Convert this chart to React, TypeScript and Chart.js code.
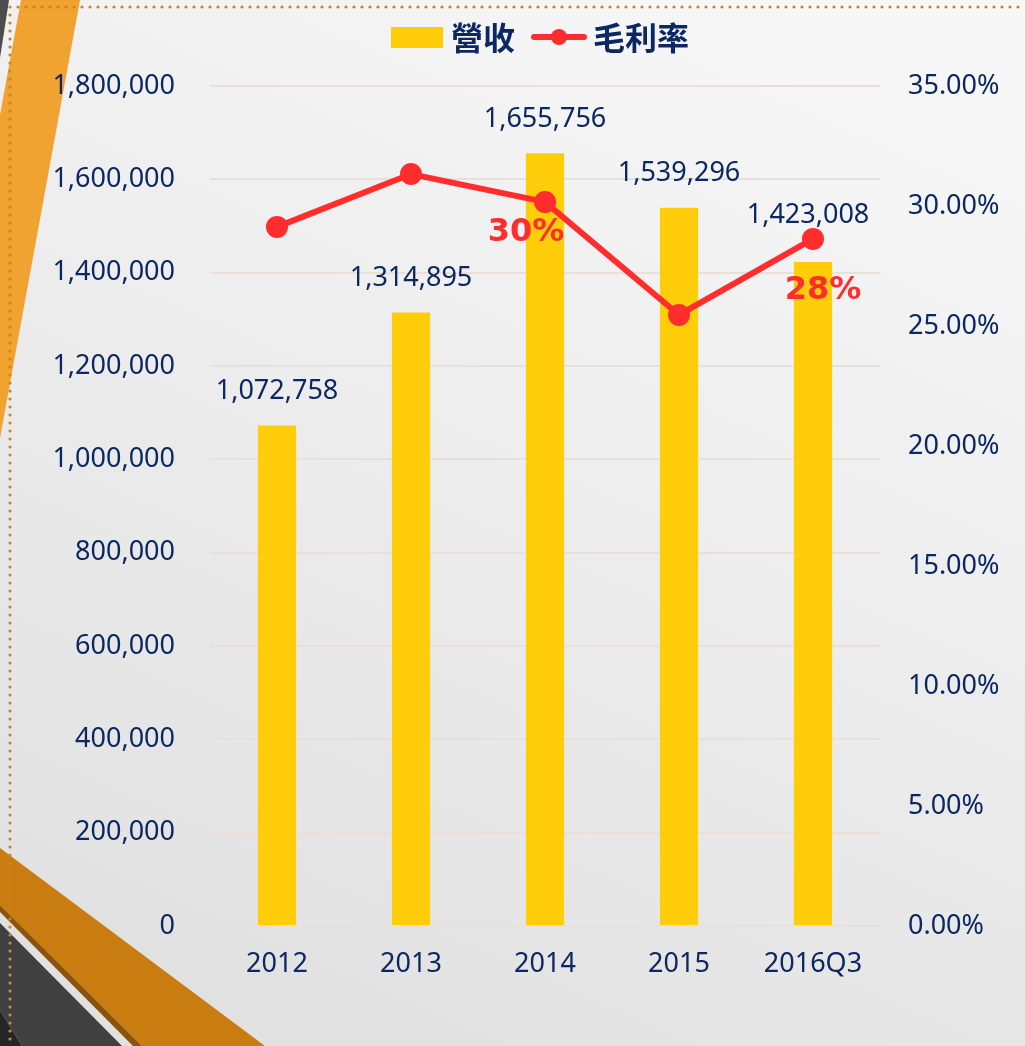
import React, { useEffect, useRef } from "react";
import { Chart, registerables } from "chart.js";

Chart.register(...registerables);

// ---------- data ----------
const categories = ["2012", "2013", "2014", "2015", "2016Q3"];
const revenue = [1072758, 1314895, 1655756, 1539296, 1423008];
const grossMargin = [0.2913, 0.3133, 0.3017, 0.2546, 0.2863];
const marginLabels = ["", "", "30%", "", "28%"];
const revenueName = "營收";
const marginName = "毛利率";
const revenueMax = 1800000;
const revenueStep = 200000;
const marginMax = 0.35;
const marginStep = 0.05;

// ---------- style ----------
const W = 1025;
const H = 1046;
const NAVY = "#0c2862";
const BAR = "#ffcd0a";
const RED = "#ff2d2d";
const NUM_FONT = '"Noto Sans", "Open Sans", sans-serif';
const CJK_FONT = '"Noto Sans CJK TC", "Noto Sans CJK SC", sans-serif';

function poly(ctx: CanvasRenderingContext2D, pts: number[][], color: string) {
  ctx.beginPath();
  ctx.moveTo(pts[0][0], pts[0][1]);
  for (let i = 1; i < pts.length; i++) ctx.lineTo(pts[i][0], pts[i][1]);
  ctx.closePath();
  ctx.fillStyle = color;
  ctx.fill();
}

const decorPlugin = {
  id: "decor",
  beforeDraw(chart: any) {
    const ctx: CanvasRenderingContext2D = chart.ctx;
    const w = chart.width;
    const h = chart.height;
    ctx.save();
    const g = ctx.createLinearGradient(w * 0.75, 0, w * 0.3, h);
    g.addColorStop(0, "#f7f7f7");
    g.addColorStop(1, "#e1e1e1");
    ctx.fillStyle = g;
    ctx.fillRect(0, 0, w, h);

    // top-left
    poly(ctx, [[0, 0], [9, 0], [0, 58]], "#4d4d4d");
    poly(ctx, [[21, 0], [80, 0], [0, 438], [0, 115]], "#f0a330");

    // bottom-left
    poly(ctx, [[0, 848], [265, h], [142, h], [0, 905]], "#c97c10");
    poly(ctx, [[0, 905], [142, h], [133, h], [0, 912]], "#8b5409");
    poly(ctx, [[0, 923], [122, h], [22, h], [0, 1010]], "#404040");
    poly(ctx, [[0, 1010], [22, h], [0, h]], "#262626");

    // dotted border
    ctx.fillStyle = "#d08518";
    for (let x = 10; x < w; x += 8) {
      ctx.beginPath();
      ctx.arc(x, 7, 1.6, 0, Math.PI * 2);
      ctx.fill();
    }
    for (let y = 15; y < h; y += 8) {
      ctx.beginPath();
      ctx.arc(10, y, 1.6, 0, Math.PI * 2);
      ctx.fill();
    }
    ctx.restore();
  },
};

const legendPlugin = {
  id: "customLegend",
  afterDraw(chart: any) {
    const ctx: CanvasRenderingContext2D = chart.ctx;
    const ds = chart.data.datasets;
    const bar = ds.find((d: any) => d.type === "bar");
    const line = ds.find((d: any) => d.type === "line");
    ctx.save();
    ctx.font = `bold 32px ${CJK_FONT}`;
    ctx.textBaseline = "middle";
    ctx.textAlign = "left";
    const t1 = ctx.measureText(bar.label).width;
    const t2 = ctx.measureText(line.label).width;
    const boxW = 52, gap1 = 8, gapItems = 16, lineW = 56, gap2 = 6;
    const total = boxW + gap1 + t1 + gapItems + lineW + gap2 + t2;
    let x = 540 - total / 2;
    const cy = 37;
    ctx.fillStyle = bar.backgroundColor;
    ctx.fillRect(x, 27, boxW, 21);
    x += boxW + gap1;
    ctx.fillStyle = NAVY;
    ctx.fillText(bar.label, x, cy + 1);
    x += t1 + gapItems;
    ctx.strokeStyle = line.borderColor;
    ctx.lineWidth = 6;
    ctx.lineCap = "round";
    ctx.beginPath();
    ctx.moveTo(x + 3, cy);
    ctx.lineTo(x + lineW - 3, cy);
    ctx.stroke();
    ctx.beginPath();
    ctx.fillStyle = line.pointBackgroundColor;
    ctx.arc(x + lineW / 2, cy, 8, 0, Math.PI * 2);
    ctx.fill();
    x += lineW + gap2;
    ctx.fillStyle = NAVY;
    ctx.fillText(line.label, x, cy + 1);
    ctx.restore();
  },
};

const marginLabelOffsets: Record<number, [number, number]> = {
  2: [-19, 31],
  4: [10, 52],
};
const revenueLabelOffsets: Record<number, [number, number]> = {
  4: [-5, -47],
};

const labelsPlugin = {
  id: "valueLabels",
  afterDatasetsDraw(chart: any) {
    const ctx: CanvasRenderingContext2D = chart.ctx;
    ctx.save();
    chart.data.datasets.forEach((d: any, di: number) => {
      const meta = chart.getDatasetMeta(di);
      if (d.type === "bar") {
        ctx.font = `27px ${NUM_FONT}`;
        ctx.fillStyle = NAVY;
        ctx.textAlign = "center";
        ctx.textBaseline = "middle";
        meta.data.forEach((el: any, i: number) => {
          const off = revenueLabelOffsets[i] || [0, -34];
          ctx.fillText(d.data[i].toLocaleString("en-US"), el.x + off[0], el.y + off[1]);
        });
      } else if (d.type === "line") {
        ctx.font = `bold 32px "DejaVu Sans", sans-serif`;
        ctx.fillStyle = RED;
        ctx.textAlign = "center";
        ctx.textBaseline = "middle";
        meta.data.forEach((el: any, i: number) => {
          const txt = marginLabels[i];
          if (!txt) return;
          const off = marginLabelOffsets[i] || [0, 30];
          ctx.fillText(txt, el.x + off[0], el.y + off[1]);
        });
      }
    });
    ctx.restore();
  },
};

export default function App() {
  const ref = useRef<HTMLCanvasElement>(null);
  useEffect(() => {
    document.body.style.margin = "0";
    const canvas = ref.current!;
    const chart = new Chart(canvas, {
      data: {
        labels: categories,
        datasets: [
          {
            type: "line",
            label: marginName,
            data: grossMargin,
            yAxisID: "y1",
            borderColor: RED,
            backgroundColor: RED,
            pointBackgroundColor: RED,
            pointBorderColor: RED,
            borderWidth: 6,
            pointRadius: 8,
            pointHoverRadius: 8,
            tension: 0,
            order: 0,
          } as any,
          {
            type: "bar",
            label: revenueName,
            data: revenue,
            yAxisID: "y",
            backgroundColor: BAR,
            categoryPercentage: 1,
            barPercentage: 0.285,
            order: 1,
          } as any,
        ],
      },
      options: {
        responsive: false,
        animation: false,
        events: [],
        layout: { padding: { top: 86, left: 0, right: 0, bottom: 0 } },
        plugins: {
          legend: { display: false },
          tooltip: { enabled: false },
        },
        scales: {
          x: {
            grid: { display: false, drawTicks: false },
            border: { display: false },
            ticks: {
              color: NAVY,
              font: { family: NUM_FONT, size: 27 },
              padding: 22,
            },
            afterFit(scale: any) {
              scale.height = 120;
            },
          },
          y: {
            position: "left",
            min: 0,
            max: revenueMax,
            grid: { color: "#eadfd9", lineWidth: 2, drawTicks: false },
            border: { display: false },
            ticks: {
              stepSize: revenueStep,
              color: NAVY,
              font: { family: NUM_FONT, size: 27 },
              padding: 35,
              callback: (v: any) => Number(v).toLocaleString("en-US"),
            },
            afterFit(scale: any) {
              scale.width = 210;
            },
          },
          y1: {
            position: "right",
            min: 0,
            max: marginMax,
            grid: { display: false, drawTicks: false },
            border: { display: false },
            ticks: {
              stepSize: marginStep,
              color: NAVY,
              font: { family: NUM_FONT, size: 27 },
              padding: 28,
              callback: (v: any) => (Number(v) * 100).toFixed(2) + "%",
            },
            afterFit(scale: any) {
              scale.width = 145;
            },
          },
        },
      } as any,
      plugins: [decorPlugin, legendPlugin, labelsPlugin],
    });
    return () => chart.destroy();
  }, []);
  return (
    <div style={{ position: "absolute", left: 0, top: 0, width: W, height: H }}>
      <canvas ref={ref} width={W} height={H} style={{ display: "block" }} />
    </div>
  );
}
